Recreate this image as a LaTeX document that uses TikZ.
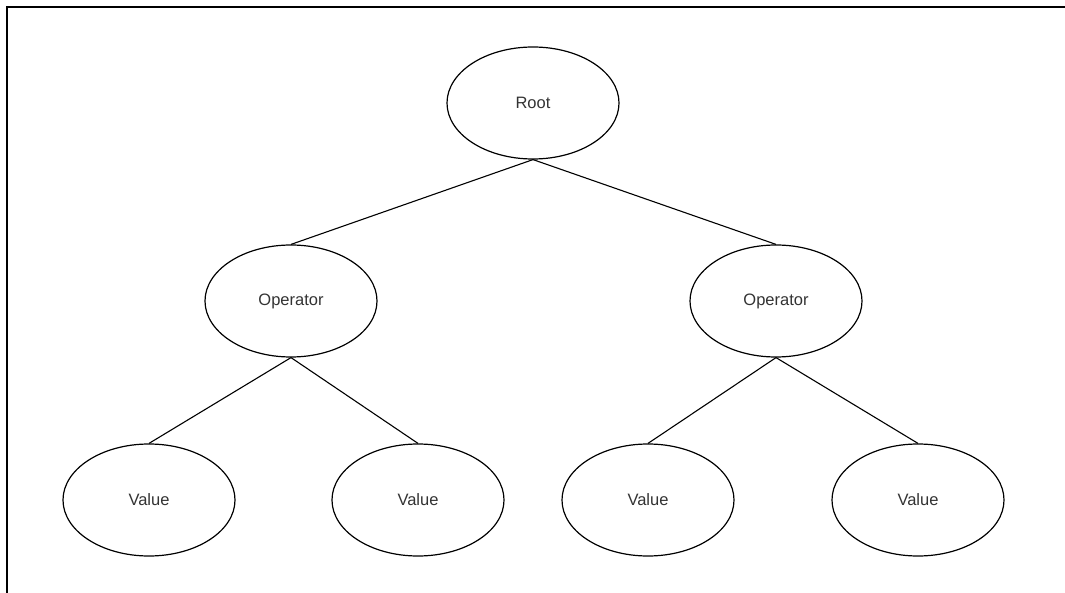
\documentclass[tikz,border=0pt]{standalone}
\usepackage{fontspec}
\setmainfont{Liberation Sans}
\usetikzlibrary{shapes.geometric}
\definecolor{labelgray}{HTML}{333333}
\tikzset{
  treenode/.style={ellipse, draw=black, line width=1.2pt, minimum width=172pt,
    minimum height=112pt, inner sep=0pt, font=\fontsize{16.5}{18}\selectfont,
    text=labelgray},
  edge/.style={draw=black, line width=1.1pt}
}
\begin{document}
\begin{tikzpicture}[x=1pt,y=-1pt]
\useasboundingbox (0,0) rectangle (1065,593);
% frame
\draw[line width=2pt] (7,600) -- (7,7) -- (1070,7);
% nodes
\node[treenode] (root) at (533,103) {Root};
\node[treenode] (opL) at (291,301) {Operator};
\node[treenode] (opR) at (776,301) {Operator};
\node[treenode] (v1) at (149,500) {Value};
\node[treenode] (v2) at (418,500) {Value};
\node[treenode] (v3) at (648,500) {Value};
\node[treenode] (v4) at (918,500) {Value};
% connectors
\draw[edge] (root.south) -- (opL.north);
\draw[edge] (root.south) -- (opR.north);
\draw[edge] (opL.south) -- (v1.north);
\draw[edge] (opL.south) -- (v2.north);
\draw[edge] (opR.south) -- (v3.north);
\draw[edge] (opR.south) -- (v4.north);
\end{tikzpicture}
\end{document}
